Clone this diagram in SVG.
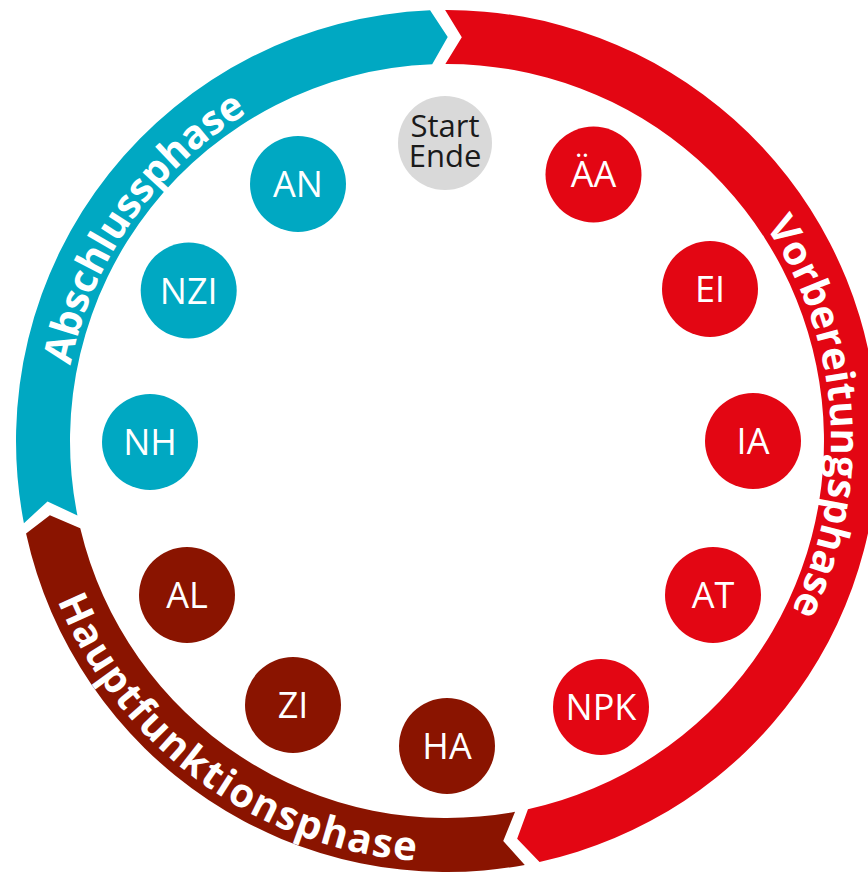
<svg xmlns="http://www.w3.org/2000/svg" width="868" height="873" viewBox="0 0 868 873">
<style>
.teal{fill:#00A8C2}
.red{fill:#E30613}
.dred{fill:#8A1400}
.grey{fill:#D9D9D9}
.phase{font-family:"Open Sans","Liberation Sans",sans-serif;font-weight:700;font-size:40px;fill:#FFFFFF}
.lbl{font-family:"Open Sans","Liberation Sans",sans-serif;font-size:36px;fill:#FFFFFF;text-anchor:middle}
.lblg{font-family:"Open Sans","Liberation Sans",sans-serif;font-size:31px;fill:#1A1A1A;text-anchor:middle}
</style>
<defs>
<path id="pVor" d="M 723.69 174.73 A 384 384 0 0 1 757.27 667.25"/>
<path id="pAbs" d="M 64.46 474.47 A 384 384 0 0 1 347.61 70.08"/>
<path id="pHau" d="M 38.5 542.85 A 421 421 0 0 0 476.37 860.97"/>
</defs>
<g id="connectors">
<path id="ring-abschluss" class="teal" d="M 23.92 523.24 A 431 431 0 0 1 430.08 10.33 L 447.71 37 L 432.2 64.29 A 377 377 0 0 0 77.44 515.52 L 47.54 501.41 Z"/>
<path id="ring-vorbereitung" class="red" d="M 445.12 10 A 431 431 0 0 1 539.55 861.94 L 517.15 838.86 L 527.96 809.2 A 377 377 0 0 0 445.36 64 L 461.8 37.27 Z"/>
<path id="ring-haupt" class="dred" d="M 524.8 864.92 A 431 431 0 0 1 26.06 533.55 L 49.89 515.32 L 80.26 528.37 A 377 377 0 0 0 515.06 811.81 L 503.23 841.07 Z"/>
<text class="phase"><textPath href="#pVor" startOffset="50%" text-anchor="middle">Vorbereitungsphase</textPath></text>
<text class="phase"><textPath href="#pAbs" startOffset="50%" text-anchor="middle">Abschlussphase</textPath></text>
<text class="phase"><textPath href="#pHau" startOffset="50%" text-anchor="middle" textLength="466">Hauptfunktionsphase</textPath></text>
</g>
<g id="node-start"><circle class="grey" cx="445" cy="143" r="47"/><text class="lblg" x="445" y="137">Start</text><text class="lblg" x="445" y="167">Ende</text></g>
<g id="node-AA"><circle class="red" cx="593.5" cy="174.5" r="48"/><text class="lbl" x="593.5" y="187">ÄA</text></g>
<g id="node-EI"><circle class="red" cx="710" cy="289" r="48"/><text class="lbl" x="710" y="302">EI</text></g>
<g id="node-IA"><circle class="red" cx="753" cy="441" r="48"/><text class="lbl" x="753" y="454">IA</text></g>
<g id="node-AT"><circle class="red" cx="713" cy="595" r="48"/><text class="lbl" x="713" y="608">AT</text></g>
<g id="node-NPK"><circle class="red" cx="601" cy="707" r="48"/><text class="lbl" x="601" y="720">NPK</text></g>
<g id="node-HA"><circle class="dred" cx="447" cy="746" r="48"/><text class="lbl" x="447" y="759">HA</text></g>
<g id="node-ZI"><circle class="dred" cx="293" cy="705" r="48"/><text class="lbl" x="293" y="718">ZI</text></g>
<g id="node-AL"><circle class="dred" cx="187" cy="595" r="48"/><text class="lbl" x="187" y="608">AL</text></g>
<g id="node-NH"><circle class="teal" cx="150" cy="442" r="48"/><text class="lbl" x="150" y="455">NH</text></g>
<g id="node-NZI"><circle class="teal" cx="188.7" cy="290.5" r="48"/><text class="lbl" x="188.7" y="303.5">NZI</text></g>
<g id="node-AN"><circle class="teal" cx="298" cy="184" r="48"/><text class="lbl" x="298" y="197">AN</text></g>
</svg>
